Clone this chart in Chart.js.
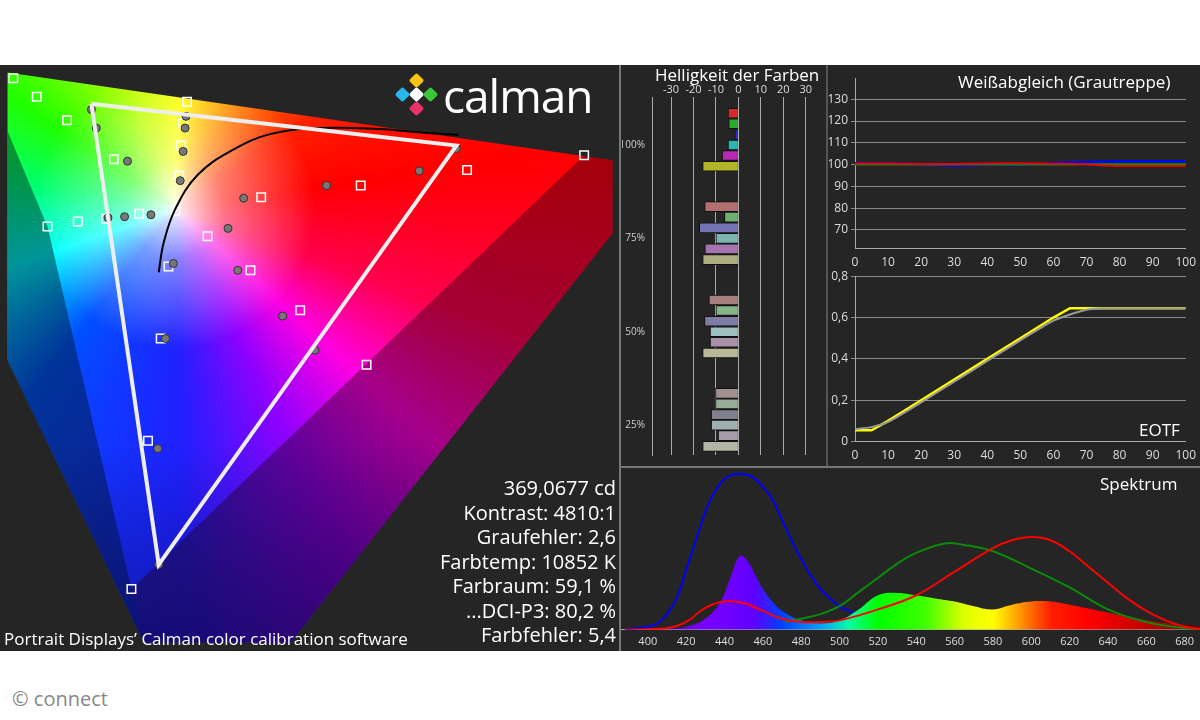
<!DOCTYPE html>
<html><head><meta charset="utf-8">
<script src="https://cdn.jsdelivr.net/npm/chart.js@4"></script>
<style>
body{margin:0;width:1200px;height:720px;background:#fff;position:relative;overflow:hidden;font-family:"Open Sans","Noto Sans",sans-serif}
#bg{position:absolute;left:0;top:65px;width:1200px;height:586px;background:#252525}
canvas{position:absolute}
.t{position:absolute;color:#fff;white-space:nowrap}
.ln{position:absolute;background:#777}
.dm{position:absolute;width:11px;height:11px;transform:rotate(45deg);border-radius:2px}
</style></head><body>
<div id="bg"></div>
<canvas id="cie" width="618" height="585" style="left:0;top:65px"></canvas>
<canvas id="hel" width="205" height="382" style="left:622px;top:82px"></canvas>
<canvas id="wb" width="370" height="205" style="left:829px;top:68px"></canvas>
<canvas id="eo" width="370" height="200" style="left:829px;top:266px"></canvas>
<canvas id="sp" width="580" height="182" style="left:620px;top:468px"></canvas>
<div class="ln" style="left:619px;top:65px;width:2px;height:586px"></div>
<div class="ln" style="left:621px;top:466px;width:579px;height:2px"></div>
<div class="ln" style="left:826px;top:65px;width:2px;height:401px;background:#555"></div>
<div class="t" style="left:655px;top:63px;font-size:17px">Helligkeit der Farben</div>
<div class="t" style="left:958px;top:70px;font-size:17px">Weißabgleich (Grautreppe)</div>
<div class="t" style="left:1139px;top:418px;font-size:17px">EOTF</div>
<div class="t" style="left:1100px;top:472px;font-size:17px">Spektrum</div>
<div class="dm" style="left:411px;top:75px;background:#f5c518"></div>
<div class="dm" style="left:397px;top:89px;background:#29b6e8"></div>
<div class="dm" style="left:425px;top:89px;background:#3cc43c"></div>
<div class="dm" style="left:411px;top:103px;background:#e8336a"></div>
<div class="dm" style="left:411px;top:89px;background:#fff"></div>
<div class="t" style="left:443px;top:64px;font-size:46px;letter-spacing:-1px">calman</div>
<div class="t" id="stats" style="right:584px;top:476px;font-size:20px;line-height:24.5px;text-align:right"></div>
<div class="t" style="left:4px;top:627px;font-size:17px">Portrait Displays’ Calman color calibration software</div>
<div class="t" style="left:12px;top:685px;font-size:20px;color:#888">© connect</div>
<script>
// ---------- data ----------
const statLines = ["369,0677 cd","Kontrast: 4810:1","Graufehler: 2,6","Farbtemp: 10852 K","Farbraum: 59,1 %","...DCI-P3: 80,2 %","Farbfehler: 5,4"];
// CIE diagram (diagram units, origin top-left of panel)
const gamutOutline = [[0,0],[620,90],[620,165],[290,585],[140,585],[0,295]];
const purpleBand = [[591,85],[620,90],[620,165],[290,585],[140,585],[127,530]];
const leftBand = [[0,60],[25,120],[41,158],[127,530],[140,585],[0,295]];
const measTriangle = [[86,32],[460,75],[155,505],[86,32]];
const locus = [[155,205],[160,175],[172,140],[195,105],[230,80],[270,63],[320,57],[380,58],[430,62],[462,64]];
const measDots = [[86,38],[91,57],[123,91],[183,45],[182,57],[180,81],[177,111],[103,149],[120,148],[147,146],[242,129],[327,116],[422,101],[226,160],[170,196],[236,203],[282,250],[162,273],[315,285],[154,386],[460,78],[155,505]];
const targetSquares = [[6,6],[30,25],[61,49],[109,89],[41,158],[72,153],[101,150],[135,145],[184,30],[180,52],[178,75],[176,106],[172,142],[260,128],[362,116],[471,100],[591,85],[205,168],[165,199],[249,203],[300,244],[157,273],[368,300],[144,378],[127,530]];
// Helligkeit der Farben
const helLevels = [100,75,50,25];
const helColors = ["R","G","B","C","M","Y"];
const helValues = {
  R:[-4.6,-15,-13.1,-10.2], G:[-4.3,-6.2,-10,-10.2], B:[-1.6,-17.4,-15.1,-12.1],
  C:[-4.6,-10,-12.6,-12.1], M:[-7.2,-14.9,-12.6,-9], Y:[-15.9,-15.9,-15.9,-15.9]};
// White balance
const wbX = [0,10,20,30,40,50,60,70,75,80,90,100];
const wbR = [100.5,100.5,100.3,100.3,100.5,100.6,100.4,100.2,99.6,99.4,99.4,99.4];
const wbG = [100,100,100,100,100,100,100,100.2,100.2,100.2,100.2,100.2];
const wbB = [100.6,100.6,100.1,99.6,99.9,99.9,100.6,101.2,101.4,101.5,101.5,101.5];
// EOTF
const eoX = [0,5,10,20,30,40,50,60,65,70,75,80,90,100];
const eoY = [0.055,0.055,0.1,0.2,0.3,0.4,0.5,0.6,0.645,0.645,0.645,0.645,0.645,0.645];
const eoRef = [0.06,0.07,0.095,0.19,0.29,0.39,0.49,0.585,0.615,0.638,0.645,0.645,0.645,0.645];
// Spectrum
const spBlue = [[388,0],[400,0.02],[405,0.04],[410,0.1],[415,0.2],[420,0.38],[430,0.75],[435,0.88],[440,0.96],[445,0.99],[450,0.99],[455,0.97],[460,0.91],[465,0.83],[470,0.7],[475,0.57],[480,0.45],[490,0.26],[500,0.15],[507,0.11]];
const spRed = [[388,0],[410,0.01],[420,0.05],[430,0.14],[440,0.18],[450,0.17],[460,0.12],[470,0.07],[480,0.05],[490,0.05],[500,0.06],[520,0.13],[540,0.22],[560,0.37],[580,0.52],[590,0.57],[600,0.59],[610,0.57],[620,0.5],[630,0.4],[640,0.3],[650,0.2],[660,0.12],[670,0.06],[680,0.02],[690,0]];
const spGreen = [[472,0.05],[480,0.07],[490,0.1],[500,0.15],[510,0.24],[520,0.33],[530,0.42],[540,0.49],[555,0.55],[565,0.54],[580,0.5],[600,0.39],[620,0.27],[640,0.13],[660,0.05],[680,0.01],[690,0]];
const spFill = [[388,0],[410,0.005],[420,0.02],[430,0.07],[438,0.18],[443,0.33],[448,0.47],[452,0.44],[456,0.35],[460,0.26],[465,0.18],[470,0.12],[480,0.06],[490,0.04],[500,0.06],[510,0.13],[520,0.22],[530,0.235],[540,0.22],[550,0.2],[560,0.18],[570,0.15],[580,0.13],[590,0.16],[600,0.18],[610,0.18],[620,0.16],[640,0.11],[660,0.06],[680,0.03],[690,0.02]];

document.getElementById('stats').innerHTML = statLines.join('<br>');
const xy = a => a.map(p=>({x:p[0],y:p[1]}));
Chart.defaults.animation=false;
Chart.defaults.font.family='"Open Sans", sans-serif';
const tickC='#ddd', gridC='#8a8a8a';

// ---------- CIE ----------
const gamutPlugin={id:'gamut',beforeDatasetsDraw(ch){
  const c=ch.ctx,sx=ch.scales.x,sy=ch.scales.y;
  const path=pts=>{c.beginPath();pts.forEach((p,i)=>{const X=sx.getPixelForValue(p[0]),Y=sy.getPixelForValue(p[1]);i?c.lineTo(X,Y):c.moveTo(X,Y)});c.closePath();};
  const cx=sx.getPixelForValue(172),cy=sy.getPixelForValue(140);
  c.save();path(gamutOutline);c.clip();
  const g=c.createConicGradient(-0.15,cx,cy);
  [[0,'#ff0000'],[0.08,'#ff0050'],[0.14,'#ff00e0'],[0.2,'#9000ff'],[0.27,'#2020ff'],[0.38,'#0050ff'],[0.47,'#00ffff'],[0.55,'#00ff70'],[0.62,'#20ff00'],[0.72,'#c0ff00'],[0.78,'#ffff00'],[0.86,'#ff8000'],[0.93,'#ff2000'],[1,'#ff0000']].forEach(s=>g.addColorStop(s[0],s[1]));
  c.fillStyle=g;c.fillRect(0,0,ch.width,ch.height);
  const r=c.createRadialGradient(cx,cy,0,cx,cy,140);
  r.addColorStop(0,'rgba(255,255,255,0.95)');r.addColorStop(0.35,'rgba(255,255,255,0.45)');r.addColorStop(1,'rgba(255,255,255,0)');
  c.fillStyle=r;c.fillRect(0,0,ch.width,ch.height);
  path(purpleBand);c.fillStyle='rgba(40,0,20,0.42)';c.fill();
  path(leftBand);c.fillStyle='rgba(0,20,30,0.45)';c.fill();
  const lb=c.createLinearGradient(0,sy.getPixelForValue(380),0,sy.getPixelForValue(585));
  lb.addColorStop(0,'rgba(0,0,40,0)');lb.addColorStop(1,'rgba(0,0,60,0.4)');
  c.fillStyle=lb;c.fillRect(0,0,ch.width,ch.height);
  c.restore();
}};
new Chart(document.getElementById('cie'),{type:'scatter',plugins:[gamutPlugin],
 data:{datasets:[
  {data:xy(measTriangle),showLine:true,borderColor:'#eee',borderWidth:4,pointRadius:0},
  {data:xy(locus),showLine:true,borderColor:'#000',borderWidth:2,pointRadius:0,tension:0.4},
  {data:xy(measDots),pointRadius:4,backgroundColor:'#777',borderColor:'#333',borderWidth:1},
  {data:xy(targetSquares),pointStyle:'rect',pointRadius:6,backgroundColor:'rgba(0,0,0,0)',borderColor:'#fff',borderWidth:1.5}
 ]},
 options:{responsive:false,layout:{padding:0},plugins:{legend:{display:false},tooltip:{enabled:false}},
  scales:{x:{type:'linear',min:0,max:618,display:false},y:{type:'linear',min:0,max:585,reverse:true,display:false}}}});

// ---------- Helligkeit ----------
const palette={100:{R:'#d42a2a',G:'#2aa82a',B:'#2a2ad4',C:'#2ab4b4',M:'#b42ab4',Y:'#b4b42a'},
 75:{R:'#b07070',G:'#6fae6f',B:'#7474b4',C:'#7cb4b4',M:'#a674b0',Y:'#aeae80'},
 50:{R:'#a88080',G:'#86b486',B:'#7c7ca6',C:'#9cc0c0',M:'#a890a8',Y:'#b8b896'},
 25:{R:'#a09090',G:'#96ac96',B:'#80808e',C:'#a0b0b0',M:'#a89aa8',Y:'#b4b4a4'}};
const offs={R:8.5,G:5.7,B:2.8,C:0,M:-2.8,Y:-5.7};
new Chart(document.getElementById('hel'),{type:'bar',
 data:{datasets:helColors.map(k=>({data:helLevels.map((L,i)=>({x:helValues[k][i],y:L+offs[k]})),
   backgroundColor:helLevels.map(L=>palette[L][k]),borderColor:'#111',borderWidth:1,barThickness:10,grouped:false}))},
 options:{responsive:false,indexAxis:'y',layout:{padding:{left:0,right:0}},plugins:{legend:{display:false},tooltip:{enabled:false}},
  scales:{x:{type:'linear',position:'top',min:-38.5,max:39.5,afterBuildTicks:a=>{a.ticks=[-30,-20,-10,0,10,20,30].map(v=>({value:v}))},
     ticks:{color:tickC,font:{size:11},padding:1},grid:{color:'#aaa',drawTicks:false},border:{display:false}},
   y:{type:'linear',offset:false,min:17,max:112.8,afterBuildTicks:a=>{a.ticks=[25,37.5,50,62.5,75,87.5,100].map(v=>({value:v}))},
     ticks:{color:'#ccc',font:{size:10},callback:v=>v%25===0?v+'%':''},afterFit:s=>{s.width=30},
     grid:{display:false,drawTicks:true,tickLength:4,color:'#aaa',offset:false},border:{color:'#aaa',width:1}}}}});

// ---------- White balance / EOTF ----------
const lineOpts=(ymin,ymax,ticks,fmt)=>({responsive:false,plugins:{legend:{display:false},tooltip:{enabled:false}},
 layout:{padding:{right:12,top:4}},
 scales:{x:{type:'linear',min:0,max:100,ticks:{stepSize:10,color:tickC,font:{size:12}},grid:{display:false,drawTicks:true,color:'#aaa',tickLength:4},border:{color:'#aaa'}},
  y:{min:ymin,max:ymax,afterBuildTicks:a=>{a.ticks=ticks.map(v=>({value:v}))},ticks:{color:tickC,font:{size:12},callback:fmt},
   grid:{color:gridC,tickLength:4},border:{color:'#aaa'},afterFit:s=>{s.width=26}}}});
new Chart(document.getElementById('wb'),{type:'line',
 data:{datasets:[
  {data:wbX.map((x,i)=>({x,y:wbR[i]})),borderColor:'#e00',borderWidth:2,pointRadius:0,tension:0.3},
  {data:wbX.map((x,i)=>({x,y:wbG[i]})),borderColor:'#090',borderWidth:2,pointRadius:0,tension:0.3},
  {data:wbX.map((x,i)=>({x,y:wbB[i]})),borderColor:'#00f',borderWidth:2.5,pointRadius:0,tension:0.3}]},
 options:lineOpts(61.4,139.7,[70,80,90,100,110,120,130],v=>v)});
new Chart(document.getElementById('eo'),{type:'line',
 data:{datasets:[
  {data:eoX.map((x,i)=>({x,y:eoRef[i]})),borderColor:'#999',borderWidth:2,pointRadius:0,tension:0.2},
  {data:eoX.map((x,i)=>({x,y:eoY[i]})),borderColor:'#ff0',borderWidth:2.5,pointRadius:0}]},
 options:lineOpts(0,0.8,[0,0.2,0.4,0.6,0.8],v=>v===0?'0':String(v).replace('.',','))});

// ---------- Spectrum ----------
const specStops=[[400,'#5a00a0'],[430,'#7a00ff'],[455,'#6000ff'],[470,'#0040ff'],[490,'#00a0ff'],[505,'#00ffa0'],[520,'#00ff00'],[545,'#40ff00'],[565,'#e0ff00'],[580,'#ffff00'],[595,'#ff9000'],[610,'#ff2000'],[630,'#ff0000'],[660,'#c00000'],[690,'#700000']];
const specFill=ctx=>{const ch=ctx.chart;if(!ch.chartArea)return '#888';const sx=ch.scales.x;
  const g=ch.ctx.createLinearGradient(sx.getPixelForValue(400),0,sx.getPixelForValue(690),0);
  specStops.forEach(s=>g.addColorStop((s[0]-400)/290,s[1]));return g;};
new Chart(document.getElementById('sp'),{type:'line',
 data:{datasets:[
  {data:xy(spBlue),borderColor:'#00f',borderWidth:2,pointRadius:0,tension:0.4,fill:false,order:3},
  {data:xy(spFill),fill:'origin',backgroundColor:specFill,borderWidth:0,pointRadius:0,tension:0.4,order:2},
  {data:xy(spGreen),borderColor:'#0a8a0a',borderWidth:2,pointRadius:0,tension:0.4,fill:false,order:1},
  {data:xy(spRed),borderColor:'#f00',borderWidth:2,pointRadius:0,tension:0.4,fill:false,order:0}]},
 options:{responsive:false,layout:{padding:0},plugins:{legend:{display:false},tooltip:{enabled:false},filler:{drawTime:'beforeDatasetDraw'}},
  scales:{x:{type:'linear',min:385.5,max:688,afterBuildTicks:a=>{a.ticks=[400,420,440,460,480,500,520,540,560,580,600,620,640,660,680].map(v=>({value:v}))},
    ticks:{color:tickC,font:{size:11},padding:2},grid:{display:false,tickLength:3,color:'#aaa'},border:{color:'#aaa'}},
   y:{min:0,max:1.03,display:false}}}});
</script></body></html>
